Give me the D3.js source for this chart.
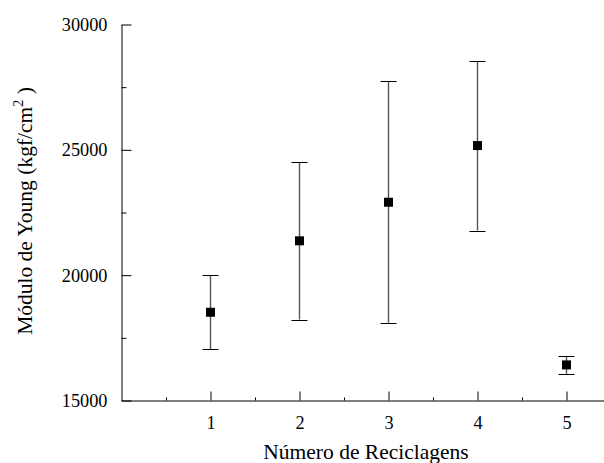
<!DOCTYPE html>
<html><head><meta charset="utf-8">
<script src="https://cdn.jsdelivr.net/npm/d3@7"></script>
<style>
body{margin:0;background:#fff;}
svg{display:block;}
</style></head>
<body><svg id="c" width="604" height="463"></svg>
<script>
const categories = [1, 2, 3, 4, 5];
const means = [18520, 21370, 22910, 25170, 16420];
const upper = [19990, 24510, 27740, 28540, 16780];
const lower = [17050, 18230, 18100, 21780, 16060];
const yTicks = [15000, 20000, 25000, 30000];
const yMinor = [17500, 22500, 27500];
const xMinor = [0.5, 1.5, 2.5, 3.5, 4.5];

const FONT = "'Liberation Serif', 'Times New Roman', serif";
const svg = d3.select("#c");
const x = d3.scaleLinear().domain([0, 5.5]).range([121.5, 611]);
const y = d3.scaleLinear().domain([15000, 30000]).range([400.5, 24.5]);

// y axis
const ya = svg.append("g").attr("transform", "translate(121.5,0)")
  .call(d3.axisLeft(y).tickValues(yTicks).tickFormat(d3.format("d")).tickSize(-10).tickSizeOuter(0).tickPadding(14));
ya.attr("font-family", FONT).attr("font-size", 18);
ya.selectAll("text").style("font-family", FONT).style("font-size", "18.3px");
svg.append("g").attr("transform", "translate(121.5,0)")
  .call(d3.axisLeft(y).tickValues(yMinor).tickFormat("").tickSize(-5).tickSizeOuter(0))
  .select(".domain").remove();

// x axis
const xa = svg.append("g").attr("transform", "translate(0,400.5)")
  .call(d3.axisBottom(x).tickValues(categories).tickFormat(d3.format("d")).tickSize(-9).tickSizeOuter(0).tickPadding(16));
xa.attr("font-family", FONT).attr("font-size", 18);
xa.selectAll("text").style("font-family", FONT).style("font-size", "18.3px");
svg.append("g").attr("transform", "translate(0,400.5)")
  .call(d3.axisBottom(x).tickValues(xMinor).tickFormat("").tickSize(-3).tickSizeOuter(0))
  .select(".domain").remove();
svg.selectAll(".domain, .tick line").attr("stroke", "#000");

// axis labels
svg.append("text").attr("x", 366).attr("y", 459).attr("text-anchor", "middle")
  .style("font-family", FONT).style("font-size", "21.5px").text("Número de Reciclagens");
const yl = svg.append("text").attr("transform", "translate(32,211) rotate(-90)")
  .attr("text-anchor", "middle").style("font-family", FONT).style("font-size", "21.5px");
yl.append("tspan").text("Módulo de Young (kgf/cm");
yl.append("tspan").attr("dy", "-9").style("font-size", "14px").text("2");
yl.append("tspan").attr("dy", "9").text(" )");

// error bars
const g = svg.append("g");
categories.forEach((c, i) => {
  const cx = x(c);
  g.append("line").attr("x1", cx).attr("x2", cx).attr("y1", y(upper[i])).attr("y2", y(lower[i]))
    .attr("stroke", "#555").attr("stroke-width", 1.4);
  [upper[i], lower[i]].forEach(v => {
    g.append("line").attr("x1", cx - 8).attr("x2", cx + 8).attr("y1", Math.round(y(v)) + 0.5).attr("y2", Math.round(y(v)) + 0.5)
      .attr("stroke", "#000").attr("stroke-width", 1);
  });
  g.append("rect").attr("x", cx - 4.5).attr("y", y(means[i]) - 4.5).attr("width", 9).attr("height", 9).attr("fill", "#000");
});
</script></body></html>
